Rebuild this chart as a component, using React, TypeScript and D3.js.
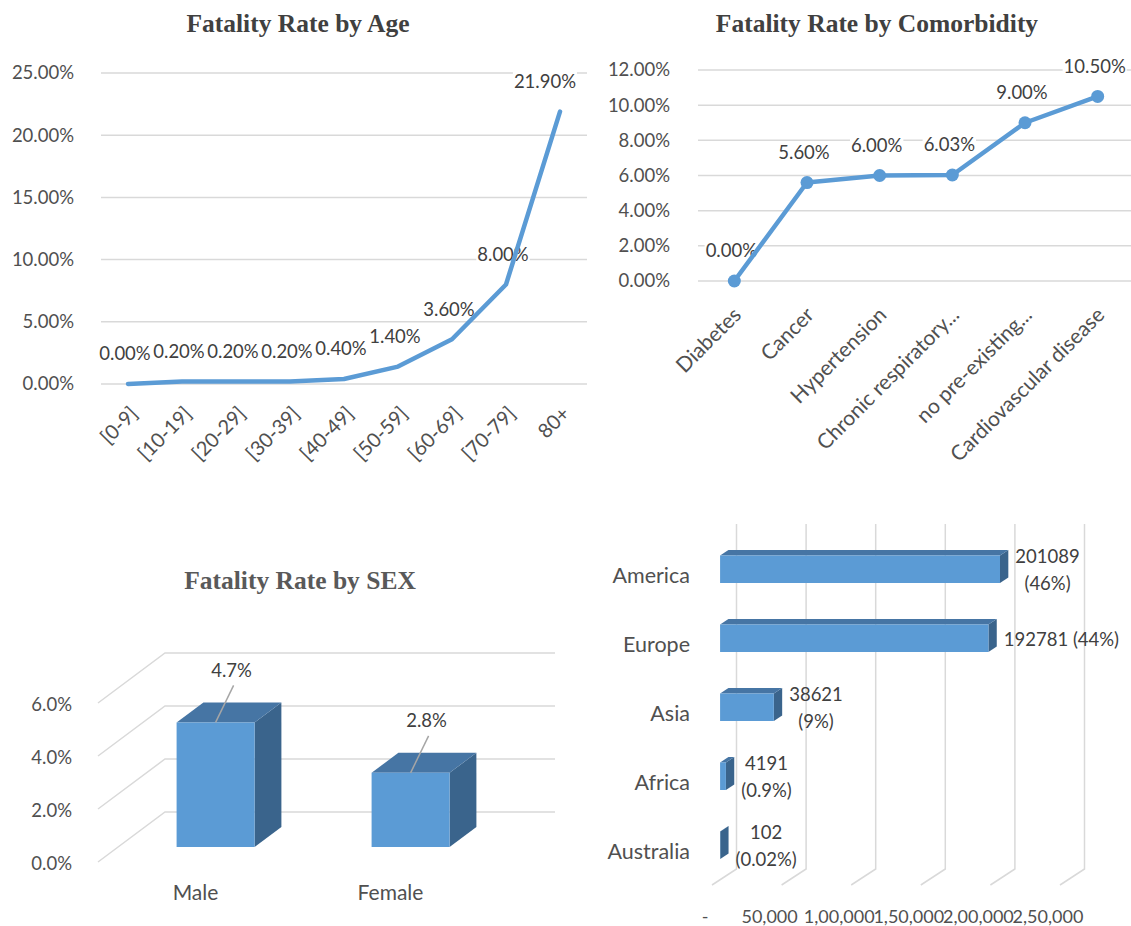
import React, { useEffect, useRef } from 'react';
import * as d3 from 'd3';

// ---- data ----
const ageGroups = ['[0-9]', '[10-19]', '[20-29]', '[30-39]', '[40-49]', '[50-59]', '[60-69]', '[70-79]', '80+'];
const ageFatality = [0.0, 0.2, 0.2, 0.2, 0.4, 1.4, 3.6, 8.0, 21.9];
const ageTicks = [0, 5, 10, 15, 20, 25];

const comorbidities = ['Diabetes', 'Cancer', 'Hypertension', 'Chronic respiratory...', 'no pre-existing...', 'Cardiovascular disease'];
const comorbidityFatality = [0.0, 5.6, 6.0, 6.03, 9.0, 10.5];
const comorbidityTicks = [0, 2, 4, 6, 8, 10, 12];

const sexes = ['Male', 'Female'];
const sexFatality = [4.7, 2.8];
const sexTicks = [0, 2, 4, 6];

const continents = ['America', 'Europe', 'Asia', 'Africa', 'Australia'];
const continentDeaths = [201089, 192781, 38621, 4191, 102];
const continentLabels = [['201089', '(46%)'], ['192781 (44%)'], ['38621', '(9%)'], ['4191', '(0.9%)'], ['102', '(0.02%)']];
const deathTicks = [0, 50000, 100000, 150000, 200000, 250000];
const deathTickLabels = ['-', '50,000', '1,00,000', '1,50,000', '2,00,000', '2,50,000'];

const FONT = 'Lato, "Open Sans", sans-serif';
const TITLE_FONT = '"Liberation Serif", "Times New Roman", serif';
const BLUE = '#5B9BD5';
const BLUE_TOP = '#4675A4';
const BLUE_SIDE = '#3A648C';
const GRID = '#D9D9D9';
const TICK_TEXT = '#505050';
const LABEL_TEXT = '#404040';

type Sel = d3.Selection<SVGGElement, unknown, null, undefined>;

function lineChart(g: Sel, o: any) {
  const x = d3.scaleBand<string>().domain(o.cats).range([o.left, o.right]);
  const cx = (c: string) => (x(c) as number) + x.bandwidth() / 2;
  const y = d3.scaleLinear().domain([0, d3.max(o.ticks as number[]) as number]).range([o.bottom, o.top]);

  g.append('text')
    .attr('x', o.titleX).attr('y', 32)
    .attr('text-anchor', 'middle')
    .attr('font-family', TITLE_FONT).attr('font-weight', 'bold').attr('font-size', 25.5)
    .attr('fill', '#404040')
    .text(o.title);

  g.selectAll('line.grid').data(o.ticks).join('line')
    .attr('class', 'grid')
    .attr('x1', o.left).attr('x2', o.gridRight)
    .attr('y1', (d: any) => y(d)).attr('y2', (d: any) => y(d))
    .attr('stroke', GRID).attr('stroke-width', 1.5);

  g.selectAll('text.ytick').data(o.ticks).join('text')
    .attr('class', 'ytick')
    .attr('x', o.tickX).attr('y', (d: any) => y(d))
    .attr('dy', '0.35em').attr('text-anchor', 'end')
    .attr('font-family', FONT).attr('font-size', 18.5).attr('fill', TICK_TEXT)
    .text((d: any) => d.toFixed(2) + '%');

  g.selectAll('text.xtick').data(o.cats).join('text')
    .attr('class', 'xtick')
    .attr('transform', (d: any) => `translate(${cx(d) + o.xLabelDx},${o.bottom + o.xLabelDy}) rotate(-45)`)
    .attr('dy', '0.35em').attr('text-anchor', 'end')
    .attr('font-family', FONT).attr('font-size', o.xLabelSize).attr('fill', TICK_TEXT)
    .text((d: any) => d);

  // data labels with white boxes (they hide the gridlines under them)
  const bg = g.append('g');
  const fg = g.append('g');
  (o.values as number[]).forEach((v, i) => {
    const t = fg.append('text')
      .attr('text-anchor', 'middle').attr('dy', '0.35em')
      .attr('font-family', FONT).attr('font-size', 18.5).attr('fill', LABEL_TEXT)
      .text(v.toFixed(2) + '%');
    const w = (t.node() as SVGTextElement).getComputedTextLength();
    let lx = cx(o.cats[i]) - 3;
    if (lx + w / 2 > o.labelMaxX) lx = o.labelMaxX - w / 2;
    const ly = y(v) - 30;
    t.attr('x', lx).attr('y', ly);
    bg.append('rect')
      .attr('x', lx - w / 2 - 1).attr('y', ly - 10)
      .attr('width', w + 2).attr('height', 20)
      .attr('fill', '#fff');
  });

  const line = d3.line<number>().x((_, i) => cx(o.cats[i])).y((d) => y(d));
  g.append('path').datum(o.values as number[])
    .attr('d', line)
    .attr('fill', 'none').attr('stroke', BLUE)
    .attr('stroke-width', 4.5).attr('stroke-linejoin', 'round').attr('stroke-linecap', 'round');

  if (o.markers) {
    g.selectAll('circle.pt').data(o.values).join('circle')
      .attr('class', 'pt')
      .attr('cx', (_: any, i: number) => cx(o.cats[i]))
      .attr('cy', (d: any) => y(d))
      .attr('r', 6.5).attr('fill', BLUE);
  }
}

function sexChart(g: Sel) {
  const floorY = 862;
  const depth = { x: 67, y: -50 };
  const left = 98;
  const right = 488;
  const h = d3.scaleLinear().domain([0, 6]).range([0, 159]);
  const fx = d3.scaleBand<string>().domain(sexes).range([left, right]).paddingInner(0.6).paddingOuter(0.3);
  const proj = (x: number, d: number, v: number): [number, number] => [x + d * depth.x, floorY + d * depth.y - h(v)];
  const poly = (pts: [number, number][]) => pts.map((p) => p.join(',')).join(' ');

  g.append('text')
    .attr('x', 300).attr('y', 589)
    .attr('text-anchor', 'middle')
    .attr('font-family', TITLE_FONT).attr('font-weight', 'bold').attr('font-size', 25.5)
    .attr('fill', '#595959')
    .text('Fatality Rate by SEX');

  sexTicks.forEach((t) => {
    const a = proj(left, 0, t);
    const b = proj(left, 1, t);
    const c = proj(right, 1, t);
    g.append('polyline')
      .attr('points', poly([a, b, c]))
      .attr('fill', 'none').attr('stroke', GRID).attr('stroke-width', 1.5);
    g.append('text')
      .attr('x', 72).attr('y', a[1] + 2)
      .attr('dy', '0.35em').attr('text-anchor', 'end')
      .attr('font-family', FONT).attr('font-size', 18.5).attr('fill', TICK_TEXT)
      .text(t.toFixed(1) + '%');
  });

  const d0 = 0.3;
  const d1 = 0.7;
  const bw = fx.bandwidth();
  sexes.forEach((s, i) => {
    const v = sexFatality[i];
    const xl = fx(s) as number;
    const xr = xl + bw;
    g.append('polygon')
      .attr('points', poly([proj(xr, d0, 0), proj(xr, d1, 0), proj(xr, d1, v), proj(xr, d0, v)]))
      .attr('fill', BLUE_SIDE);
    g.append('polygon')
      .attr('points', poly([proj(xl, d0, v), proj(xr, d0, v), proj(xr, d1, v), proj(xl, d1, v)]))
      .attr('fill', BLUE_TOP);
    g.append('polygon')
      .attr('points', poly([proj(xl, d0, 0), proj(xr, d0, 0), proj(xr, d0, v), proj(xl, d0, v)]))
      .attr('fill', BLUE);

    const anchor = proj((xl + xr) / 2, d0, v);
    const lx = anchor[0] + 16;
    const ly = anchor[1] - 52;
    g.append('line')
      .attr('x1', lx + 2).attr('y1', ly + 15)
      .attr('x2', anchor[0]).attr('y2', anchor[1])
      .attr('stroke', '#A6A6A6').attr('stroke-width', 1.5);
    g.append('text')
      .attr('x', lx).attr('y', ly)
      .attr('dy', '0.35em').attr('text-anchor', 'middle')
      .attr('font-family', FONT).attr('font-size', 18.5).attr('fill', LABEL_TEXT)
      .text(v.toFixed(1) + '%');

    g.append('text')
      .attr('x', (xl + xr) / 2).attr('y', 893)
      .attr('dy', '0.35em').attr('text-anchor', 'middle')
      .attr('font-family', FONT).attr('font-size', 21).attr('fill', TICK_TEXT)
      .text(s);
  });
}

function continentChart(g: Sel) {
  const x0 = 712;
  const top = 540;
  const bottom = 885;
  const depth = { x: 24.5, y: -16 };
  const xs = d3.scaleLinear().domain([0, 250000]).range([0, 348]);
  const by = d3.scaleBand<string>().domain(continents).range([top, bottom]).paddingInner(0.6).paddingOuter(0.3);
  const proj = (v: number, y: number, d: number): [number, number] => [x0 + xs(v) + d * depth.x, y + d * depth.y];
  const poly = (pts: [number, number][]) => pts.map((p) => p.join(',')).join(' ');

  deathTicks.forEach((t, i) => {
    const a = proj(t, top, 1);
    const b = proj(t, bottom, 1);
    const c = proj(t, bottom, 0);
    g.append('polyline')
      .attr('points', poly([a, b, c]))
      .attr('fill', 'none').attr('stroke', GRID).attr('stroke-width', 1.5);
    g.append('text')
      .attr('x', c[0] - (t === 0 ? 7 : 12)).attr('y', 917)
      .attr('dy', '0.35em').attr('text-anchor', 'middle')
      .attr('font-family', FONT).attr('font-size', 18).attr('fill', TICK_TEXT)
      .text(deathTickLabels[i]);
  });

  const d0 = 0.33;
  const d1 = 0.67;
  const bw = by.bandwidth();
  continents.forEach((c, i) => {
    const v = continentDeaths[i];
    const yt = by(c) as number;
    const yb = yt + bw;
    g.append('polygon')
      .attr('points', poly([proj(v, yt, d0), proj(v, yt, d1), proj(v, yb, d1), proj(v, yb, d0)]))
      .attr('fill', BLUE_SIDE);
    g.append('polygon')
      .attr('points', poly([proj(0, yt, d0), proj(v, yt, d0), proj(v, yt, d1), proj(0, yt, d1)]))
      .attr('fill', BLUE_TOP);
    g.append('polygon')
      .attr('points', poly([proj(0, yt, d0), proj(v, yt, d0), proj(v, yb, d0), proj(0, yb, d0)]))
      .attr('fill', BLUE);

    g.append('text')
      .attr('x', 690).attr('y', yt + bw / 2 + 1)
      .attr('dy', '0.35em').attr('text-anchor', 'end')
      .attr('font-family', FONT).attr('font-size', 21.5).attr('fill', TICK_TEXT)
      .text(c);

    // value label to the right of the bar end
    const lines = continentLabels[i];
    const lg = g.append('g');
    const texts = lines.map((s) =>
      lg.append('text')
        .attr('text-anchor', 'middle').attr('dy', '0.35em')
        .attr('font-family', FONT).attr('font-size', 18.5).attr('fill', LABEL_TEXT)
        .text(s)
    );
    const w = d3.max(texts, (t) => (t.node() as SVGTextElement).getComputedTextLength()) as number;
    const endX = proj(v, yt, d1)[0];
    const cxl = endX + 7 + w / 2;
    const cyl = (yt + yb) / 2 + d0 * depth.y + 1;
    const lh = 27;
    texts.forEach((t, k) => {
      t.attr('x', cxl).attr('y', cyl + (k - (lines.length - 1) / 2) * lh);
    });
  });
}

export default function App() {
  const svgRef = useRef<SVGSVGElement>(null);

  useEffect(() => {
    const svg = d3.select(svgRef.current as SVGSVGElement);
    svg.selectAll('*').remove();

    lineChart(svg.append('g'), {
      cats: ageGroups, values: ageFatality, ticks: ageTicks,
      left: 101, right: 587, gridRight: 587, top: 73, bottom: 384,
      tickX: 74, title: 'Fatality Rate by Age', titleX: 298,
      xLabelDx: 6, xLabelDy: 26, xLabelSize: 20, labelMaxX: 576, markers: false,
    });

    lineChart(svg.append('g'), {
      cats: comorbidities, values: comorbidityFatality, ticks: comorbidityTicks,
      left: 698, right: 1134, gridRight: 1131, top: 70, bottom: 281,
      tickX: 670, title: 'Fatality Rate by Comorbidity', titleX: 877,
      xLabelDx: 3, xLabelDy: 30, xLabelSize: 21, labelMaxX: 1129, markers: true,
    });

    sexChart(svg.append('g'));
    continentChart(svg.append('g'));
  }, []);

  return (
    <svg
      ref={svgRef}
      width={1131}
      height={926}
      style={{ position: 'absolute', left: 0, top: 0, background: '#fff' }}
    />
  );
}
